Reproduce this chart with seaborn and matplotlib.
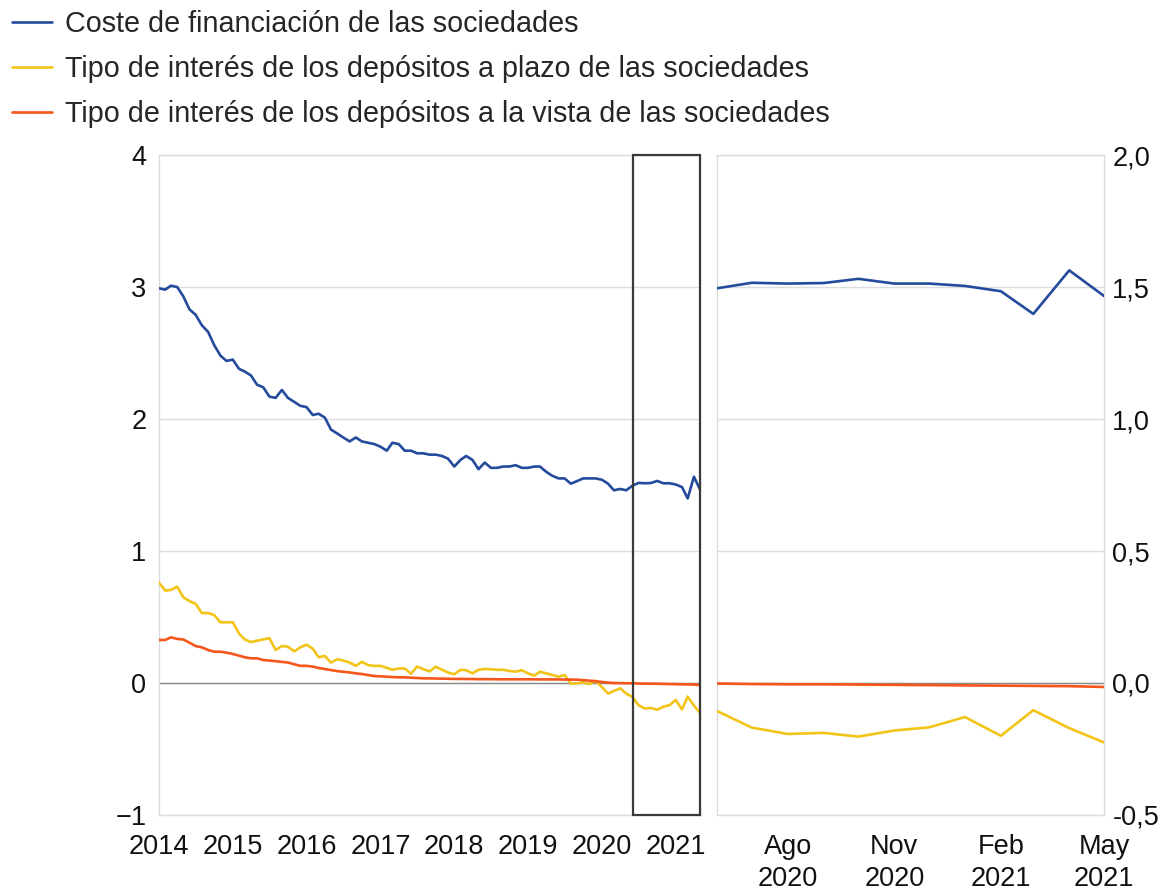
import pandas as pd
import seaborn as sns
import matplotlib.pyplot as plt
import matplotlib.dates as mdates
from matplotlib.patches import Rectangle

# Monthly data, Jan 2014 - May 2021
fechas = pd.date_range("2014-01-01", "2021-05-01", freq="MS")

coste = [
    2.99, 2.98, 3.01, 3.00, 2.93, 2.83, 2.79, 2.71, 2.66, 2.56, 2.48, 2.44,
    2.45, 2.38, 2.36, 2.33, 2.26, 2.24, 2.17, 2.16, 2.22, 2.16, 2.13, 2.10,
    2.09, 2.03, 2.04, 2.01, 1.92, 1.89, 1.86, 1.83, 1.86, 1.83, 1.82, 1.81,
    1.79, 1.76, 1.82, 1.81, 1.76, 1.76, 1.74, 1.74, 1.73, 1.73, 1.72, 1.70,
    1.64, 1.69, 1.72, 1.69, 1.62, 1.67, 1.63, 1.63, 1.64, 1.64, 1.65, 1.63,
    1.63, 1.64, 1.64, 1.60, 1.57, 1.55, 1.55, 1.51, 1.53, 1.55, 1.55, 1.55,
    1.54, 1.51, 1.46, 1.47, 1.46, 1.495, 1.516, 1.513, 1.515, 1.531, 1.513, 1.513,
    1.504, 1.484, 1.398, 1.563, 1.466,
]
plazo = [
    0.76, 0.70, 0.705, 0.73, 0.65, 0.62, 0.60, 0.53, 0.53, 0.515, 0.46, 0.46,
    0.46, 0.375, 0.33, 0.31, 0.32, 0.33, 0.34, 0.25, 0.28, 0.275, 0.24, 0.27,
    0.29, 0.26, 0.195, 0.205, 0.155, 0.18, 0.17, 0.155, 0.13, 0.16, 0.135, 0.13,
    0.13, 0.115, 0.10, 0.11, 0.11, 0.07, 0.125, 0.105, 0.088, 0.124, 0.10, 0.08,
    0.066, 0.10, 0.097, 0.073, 0.10, 0.106, 0.104, 0.10, 0.10, 0.091, 0.086, 0.097,
    0.073, 0.056, 0.086, 0.073, 0.061, 0.048, 0.061, -0.005, -0.003, 0.005, -0.008, 0.018,
    -0.03, -0.08, -0.06, -0.04, -0.08, -0.106, -0.169, -0.193, -0.189, -0.203, -0.180, -0.168,
    -0.129, -0.200, -0.103, -0.171, -0.225,
]
vista = [
    0.326, 0.326, 0.346, 0.334, 0.33, 0.305, 0.28, 0.27, 0.25, 0.237, 0.237, 0.23,
    0.22, 0.207, 0.195, 0.187, 0.187, 0.174, 0.17, 0.165, 0.16, 0.155, 0.142, 0.13,
    0.13, 0.124, 0.114, 0.106, 0.098, 0.09, 0.085, 0.08, 0.073, 0.068, 0.06, 0.053,
    0.05, 0.048, 0.045, 0.043, 0.043, 0.04, 0.038, 0.035, 0.035, 0.034, 0.033, 0.032,
    0.031, 0.031, 0.030, 0.030, 0.029, 0.029, 0.029, 0.028, 0.028, 0.028, 0.028, 0.028,
    0.028, 0.028, 0.027, 0.027, 0.027, 0.027, 0.026, 0.026, 0.025, 0.022, 0.018, 0.013,
    0.008, 0.003, 0.0, -0.001, -0.002, -0.002, -0.004, -0.005, -0.005, -0.006, -0.007, -0.008,
    -0.009, -0.010, -0.011, -0.012, -0.015,
]

nombres = [
    "Coste de financiación de las sociedades",
    "Tipo de interés de los depósitos a plazo de las sociedades",
    "Tipo de interés de los depósitos a la vista de las sociedades",
]
colores = ["#244b9b", "#f2c418", "#f5561c"]

anios = list(range(2014, 2022))
ticks_izq = ["−1", "0", "1", "2", "3", "4"]
ticks_der = ["-0,5", "0,0", "0,5", "1,0", "1,5", "2,0"]
meses_der = ["2020-08-01", "2020-11-01", "2021-02-01", "2021-05-01"]
etiq_meses = ["Ago\n2020", "Nov\n2020", "Feb\n2021", "May\n2021"]
inicio_zoom = "2020-06-01"

df = pd.DataFrame({"fecha": fechas, "coste": coste, "plazo": plazo, "vista": vista})
dfr = df[df["fecha"] >= inicio_zoom]

sns.set_theme(style="white")
plt.rcParams["font.family"] = ["Liberation Sans", "DejaVu Sans"]

fig = plt.figure(figsize=(11.72, 8.91), dpi=100)
axl = fig.add_axes([159 / 1172, 1 - 815 / 891, 541 / 1172, 660 / 891])
axr = fig.add_axes([717 / 1172, 1 - 815 / 891, 387 / 1172, 660 / 891])

for col, c, nom in zip(["coste", "plazo", "vista"], colores, nombres):
    sns.lineplot(data=df, x="fecha", y=col, ax=axl, color=c, lw=1.9, label=nom, zorder=3)
    sns.lineplot(data=dfr, x="fecha", y=col, ax=axr, color=c, lw=1.9, legend=False, zorder=3)

handles, labels = axl.get_legend_handles_labels()
axl.get_legend().remove()
fig.legend(handles, labels, loc="upper left", bbox_to_anchor=(6 / 1172, 1 - 4 / 891),
           frameon=False, fontsize=20.7, handlelength=1.4, handletextpad=0.45,
           labelspacing=0.6, borderpad=0.2, borderaxespad=0)

for ax in (axl, axr):
    ax.set_xlabel("")
    ax.set_ylabel("")
    ax.grid(axis="y", color="#dcdcdc", lw=1)
    ax.grid(axis="x", visible=False)
    ax.axhline(0, color="#8a8a8a", lw=1, zorder=2)
    for s in ax.spines.values():
        s.set_color("#dcdcdc")
        s.set_linewidth(1)
    ax.tick_params(length=0, labelsize=19.5, colors="#111111")

axl.set_xlim(fechas[0], fechas[-1])
axl.set_ylim(-1, 4)
axl.set_yticks(range(-1, 5))
axl.set_yticklabels(ticks_izq)
axl.set_xticks(pd.to_datetime([f"{a}-01-01" for a in anios]))
axl.set_xticklabels([str(a) for a in anios])
axl.tick_params(axis="y", pad=9)
axl.tick_params(axis="x", pad=14)

axr.set_xlim(pd.Timestamp(inicio_zoom), fechas[-1])
axr.set_ylim(-0.5, 2.0)
axr.set_yticks([-0.5, 0, 0.5, 1.0, 1.5, 2.0])
axr.set_yticklabels(ticks_der)
axr.yaxis.tick_right()
axr.tick_params(axis="y", pad=6)
axr.set_xticks(pd.to_datetime(meses_der))
axr.set_xticklabels(etiq_meses)
axr.tick_params(axis="x", pad=14)
for t in axr.get_xticklabels():
    t.set_linespacing(1.3)

# box marking the zoomed period on the left panel
x0 = mdates.date2num(pd.Timestamp(inicio_zoom))
x1 = mdates.date2num(fechas[-1])
axl.add_patch(Rectangle((x0, -1), x1 - x0, 5, fill=False, ec="#3a3a3a", lw=1.6,
                        clip_on=False, zorder=5))

fig.savefig("out.png", dpi=100)
